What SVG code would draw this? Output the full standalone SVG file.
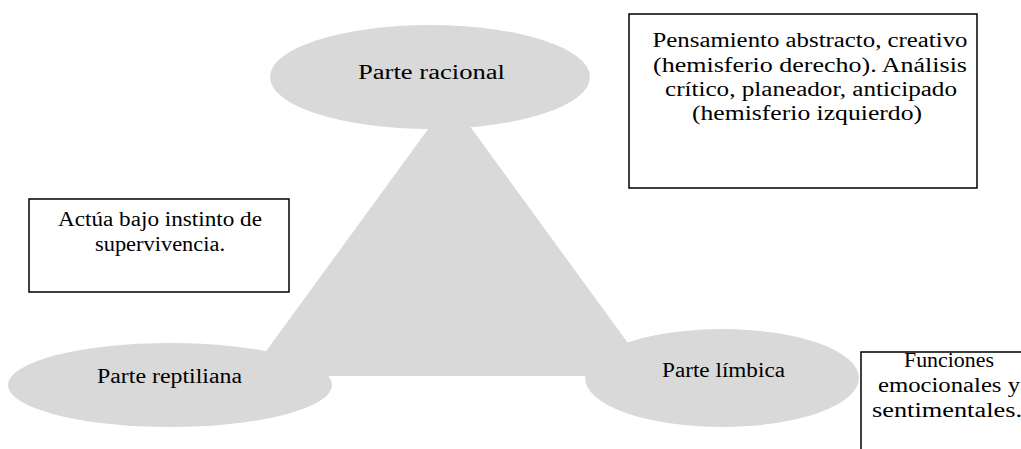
<svg xmlns="http://www.w3.org/2000/svg" width="1021" height="449" viewBox="0 0 1021 449">
  <style>
    .shape { fill: #d9d9d9; stroke: none; }
    .box { fill: #ffffff; stroke: #000000; stroke-width: 1.5; }
    .t { font-family: "Liberation Serif", "DejaVu Serif", serif; font-size: 20.5px; fill: #000000; text-anchor: middle; }
  </style>
  <rect x="0" y="0" width="1021" height="449" fill="#ffffff"/>
  <g id="triangle">
    <polygon class="shape" points="450,99 248,376 652,376"/>
  </g>
  <g id="connectors"></g>
  <g id="parte-racional">
    <ellipse class="shape" cx="430" cy="77" rx="160" ry="52"/>
    <text class="t" x="431.5" y="79" textLength="147" lengthAdjust="spacingAndGlyphs">Parte racional</text>
  </g>
  <g id="parte-reptiliana">
    <ellipse class="shape" cx="170" cy="385" rx="162" ry="42"/>
    <text class="t" x="169.5" y="383" textLength="145" lengthAdjust="spacingAndGlyphs">Parte reptiliana</text>
  </g>
  <g id="parte-limbica">
    <ellipse class="shape" cx="722" cy="378" rx="137" ry="49"/>
    <text class="t" x="723.5" y="377" textLength="123" lengthAdjust="spacingAndGlyphs">Parte límbica</text>
  </g>
  <g id="box-racional">
    <rect class="box" x="629" y="14" width="348" height="174"/>
    <text class="t" x="810" y="47" textLength="315" lengthAdjust="spacingAndGlyphs">Pensamiento abstracto, creativo</text>
    <text class="t" x="810" y="72" textLength="314" lengthAdjust="spacingAndGlyphs">(hemisferio derecho). Análisis</text>
    <text class="t" x="811" y="96" textLength="292" lengthAdjust="spacingAndGlyphs">crítico, planeador, anticipado</text>
    <text class="t" x="807" y="120" textLength="230" lengthAdjust="spacingAndGlyphs">(hemisferio izquierdo)</text>
  </g>
  <g id="box-reptiliana">
    <rect class="box" x="29" y="199" width="260" height="93"/>
    <text class="t" x="160" y="226" textLength="204" lengthAdjust="spacingAndGlyphs">Actúa bajo instinto de</text>
    <text class="t" x="160" y="251" textLength="130" lengthAdjust="spacingAndGlyphs">supervivencia.</text>
  </g>
  <g id="box-limbica">
    <rect class="box" x="861" y="352" width="180" height="120"/>
    <text class="t" x="949" y="367" textLength="90" lengthAdjust="spacingAndGlyphs">Funciones</text>
    <text class="t" x="949" y="392" textLength="142" lengthAdjust="spacingAndGlyphs">emocionales y</text>
    <text class="t" x="947" y="417" textLength="150" lengthAdjust="spacingAndGlyphs">sentimentales.</text>
  </g>
</svg>
